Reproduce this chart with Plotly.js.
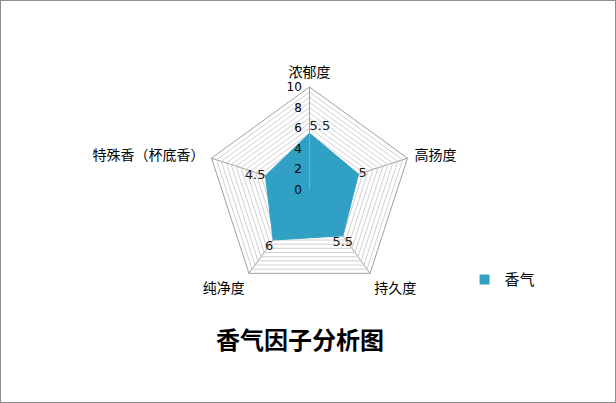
<!DOCTYPE html>
<html>
<head>
<meta charset="utf-8">
<script src="https://cdn.plot.ly/plotly-3.0.1.min.js"></script>
<style>
  body { margin: 0; background: #fff; }
  #frame { width: 616px; height: 403px; box-sizing: border-box; border: 1px solid #8c8c8c; }
  #chart { width: 614px; height: 401px; }
</style>
</head>
<body>
<div id="frame"><div id="chart"></div></div>
<script>
// aroma factors and their scores
var factors = ['浓郁度', '高扬度', '持久度', '纯净度', '特殊香（杯底香）']
var scores = [5.5, 5, 5.5, 6, 4.5]
var seriesName = '香气'

// radial grid every 0.5, labelled every 2
var gridVals = [0, 0.5, 1, 1.5, 2, 2.5, 3, 3.5, 4, 4.5, 5, 5.5, 6, 6.5, 7, 7.5, 8, 8.5, 9, 9.5, 10]
var gridText = ['0', '', '', '', '2', '', '', '', '4', '', '', '', '6', '', '', '', '8', '', '', '', '10']

var labelPos = ['top right', 'middle right', 'bottom center', 'bottom left', 'middle left']

// close the polygon
var theta = factors.concat([factors[0]])
var r = scores.concat([scores[0]])

var fillColor = '#30a1c4'

var fillTrace = {
  type: 'scatterpolar',
  r: r,
  theta: theta,
  name: seriesName,
  mode: 'lines',
  fill: 'toself',
  fillcolor: fillColor,
  line: { color: fillColor, width: 1 },
  showlegend: false,
  hoverinfo: 'skip'
}

// legend entry drawn as a square swatch like the original
var legendTrace = {
  type: 'scatterpolar',
  r: [null],
  theta: [factors[0]],
  name: seriesName,
  mode: 'markers',
  marker: { symbol: 'square', size: 10, color: fillColor },
  hoverinfo: 'skip'
}

var labelTrace = {
  type: 'scatterpolar',
  r: scores,
  theta: factors,
  mode: 'text',
  text: scores.map(String),
  textposition: labelPos,
  textfont: { family: 'DejaVu Sans, sans-serif', size: 13, color: '#1a1a1a' },
  showlegend: false,
  hoverinfo: 'skip'
}

var layout = {
  width: 614,
  height: 401,
  margin: { l: 0, r: 0, t: 0, b: 0 },
  paper_bgcolor: '#fff',
  font: { family: 'Noto Sans CJK SC, sans-serif', color: '#000' },
  polar: {
    domain: { x: [0.3339, 0.6710], y: [0.2718, 0.7855] },
    gridshape: 'linear',
    bgcolor: 'rgba(0,0,0,0)',
    angularaxis: {
      rotation: 90,
      direction: 'clockwise',
      linecolor: '#a0a0a0',
      linewidth: 1,
      gridcolor: '#a0a0a0',
      ticks: 'outside',
      ticklen: 4,
      tickcolor: 'rgba(0,0,0,0)',
      tickfont: { size: 14, color: '#000' }
    },
    radialaxis: {
      range: [0, 10],
      angle: 90,
      tickangle: 90,
      side: 'counterclockwise',
      tickvals: gridVals,
      ticktext: gridText,
      ticks: 'outside',
      ticklen: 3,
      tickcolor: 'rgba(0,0,0,0)',
      showline: true,
      linecolor: '#a0a0a0',
      gridcolor: '#d0d0d0',
      tickfont: { family: 'DejaVu Sans, sans-serif', size: 12, color: '#000' }
    }
  },
  showlegend: true,
  legend: {
    x: 0.755, y: 0.305, xanchor: 'left', yanchor: 'middle',
    font: { size: 15, color: '#000' },
    bgcolor: 'rgba(0,0,0,0)'
  },
  title: {
    text: '<b>香气因子分析图</b>',
    font: { family: 'Noto Sans CJK SC, sans-serif', size: 24, color: '#000' },
    x: 0.487, xanchor: 'center',
    y: 0.152, yanchor: 'middle'
  }
}

Plotly.newPlot('chart', [fillTrace, legendTrace, labelTrace], layout, { displayModeBar: false, staticPlot: true })
</script>
</body>
</html>
